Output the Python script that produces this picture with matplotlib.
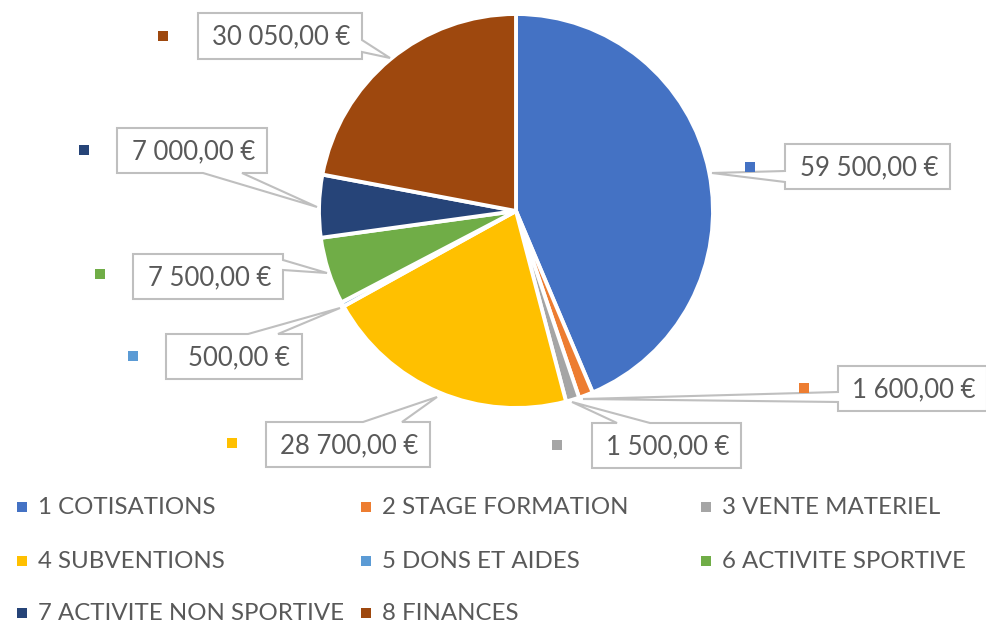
import matplotlib
matplotlib.use("Agg")
import matplotlib.pyplot as plt
from matplotlib.patches import Polygon, Rectangle

categories = ["1 COTISATIONS", "2 STAGE FORMATION", "3 VENTE MATERIEL",
              "4 SUBVENTIONS", "5 DONS ET AIDES", "6 ACTIVITE SPORTIVE",
              "7 ACTIVITE NON SPORTIVE", "8 FINANCES"]
values = [59500, 1600, 1500, 28700, 500, 7500, 7000, 30050]
value_labels = ["59 500,00 €", "1 600,00 €", "1 500,00 €", "28 700,00 €",
                "500,00 €", "7 500,00 €", "7 000,00 €", "30 050,00 €"]
colors = ["#4472C4", "#ED7D31", "#A5A5A5", "#FFC000",
          "#5B9BD5", "#70AD47", "#264478", "#9E480E"]

W, H = 987, 628
FONT = "Lato"
TXT = "#595959"
EDGE = "#BFBFBF"

fig = plt.figure(figsize=(W / 100, H / 100), dpi=100)
ax = fig.add_axes([0, 0, 1, 1])


def Y(py):
    return H - py


# Pie
ax.pie(values, colors=colors, startangle=90, counterclock=False,
       center=(516, Y(211)), radius=197, frame=True,
       wedgeprops=dict(edgecolor="white", linewidth=2.8))
ax.set_xlim(0, W)
ax.set_ylim(0, H)
ax.set_aspect("equal")
ax.axis("off")

# callout layouts: box (x0, y0, x1, y1), side, base (b1, b2), tip (x, y), marker (x, y)
callouts = [
    ((785, 144, 950, 189), "left", (171, 182), (712, 173), (750, 167)),
    ((838, 366, 987, 411), "left", (392, 402), (583, 399), (804, 388)),
    ((592, 423, 741, 468), "top", (617, 650), (572, 402), (557, 445)),
    ((266, 422, 430, 467), "top", (363, 402), (437, 397), (232, 443)),
    ((166, 334, 302, 379), "top", (248, 278), (340, 308), (133, 356)),
    ((133, 254, 283, 299), "right", (260, 270), (327, 273), (100, 274)),
    ((117, 128, 267, 173), "bottom", (203, 242), (317, 207), (84, 150)),
    ((198, 13, 362, 59), "right", (40, 52), (390, 58), (163, 36)),
]


def callout_poly(box, side, base, tip):
    x0, y0, x1, y1 = box
    b1, b2 = base
    pts = [(x0, y0)]
    if side == "top":
        pts += [(b1, y0), tip, (b2, y0)]
    pts += [(x1, y0)]
    if side == "right":
        pts += [(x1, b1), tip, (x1, b2)]
    pts += [(x1, y1)]
    if side == "bottom":
        pts += [(b2, y1), tip, (b1, y1)]
    pts += [(x0, y1)]
    if side == "left":
        pts += [(x0, b2), tip, (x0, b1)]
    return [(x, Y(y)) for x, y in pts]


for (box, side, base, tip, mk), lab, col in zip(callouts, value_labels, colors):
    poly = Polygon(callout_poly(box, side, base, tip), closed=True,
                   facecolor="white", edgecolor=EDGE, linewidth=1.5,
                   joinstyle="miter", zorder=5)
    ax.add_patch(poly)
    x0, y0, x1, y1 = box
    ax.text(x1 - 12, Y((y0 + y1) / 2 + 1), lab, ha="right", va="center",
            fontsize=18.5, color=TXT, family=FONT, zorder=6)
    ax.add_patch(Rectangle((mk[0] - 5, Y(mk[1] + 5)), 10, 10,
                           facecolor=col, edgecolor="none", zorder=6))

# Legend
col_x = [22, 366, 706]
row_y = [507, 561, 613]
for i, (cat, col) in enumerate(zip(categories, colors)):
    cx = col_x[i % 3]
    cy = row_y[i // 3]
    ax.add_patch(Rectangle((cx - 5, Y(cy + 5)), 10, 10,
                           facecolor=col, edgecolor="none"))
    ax.text(cx + 16, Y(cy + 1), cat, ha="left", va="center",
            fontsize=17.3, color=TXT, family=FONT)

fig.savefig("out.png", dpi=100, facecolor="white")
